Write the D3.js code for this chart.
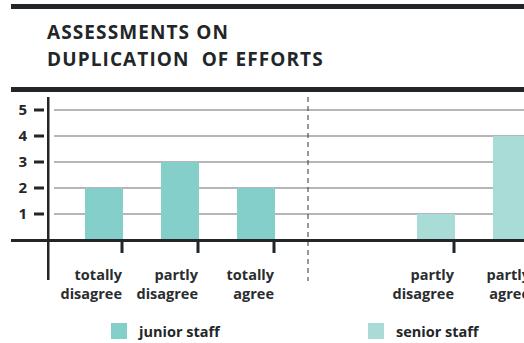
<!DOCTYPE html>
<html>
<head>
<meta charset="utf-8">
<script src="https://cdn.jsdelivr.net/npm/d3@7"></script>
<style>
  html, body { margin: 0; padding: 0; background: #fff; }
  svg { display: block; font-family: "Open Sans", Lato, sans-serif; }
</style>
</head>
<body>
<svg id="chart" width="524" height="343"></svg>
<script>
// Survey answers: how many respondents chose each option
const juniorCategories = ["totally disagree", "partly disagree", "totally agree"];
const juniorValues = [2, 3, 2];
const seniorCategories = ["partly disagree", "partly agree"];
const seniorValues = [1, 4];
const yTicks = [1, 2, 3, 4, 5];
const titleLines = ["ASSESSMENTS ON", "DUPLICATION  OF EFFORTS"];
const legendItems = ["junior staff", "senior staff"];

const juniorColor = "#84cfc9";
const seniorColor = "#a9dcd7";
const ink = "#222628";

const svg = d3.select("#chart");

// Heavy rules framing the title
svg.append("rect").attr("x", 11).attr("y", 4).attr("width", 513).attr("height", 5).attr("fill", ink);
svg.append("rect").attr("x", 11).attr("y", 87).attr("width", 513).attr("height", 5).attr("fill", ink);

svg.append("g").selectAll("text").data(titleLines).join("text")
  .attr("x", 47).attr("y", (d, i) => 39 + i * 26.5)
  .attr("font-size", 19).attr("font-weight", 700).attr("letter-spacing", 1.1).attr("fill", ink)
  .attr("xml:space", "preserve")
  .text(d => d);

// Scales: one band step per answer option, each group on its own range
const y = d3.scaleLinear().domain([0, 5]).range([240, 110]);
const xJ = d3.scaleBand().domain(juniorCategories).range([47, 313]).paddingInner(0.5).paddingOuter(0.5);
const xS = d3.scaleBand().domain(seniorCategories).range([379, 569]).paddingInner(0.5).paddingOuter(0.5);
const axisX = 48;
const dividerX = 308;

// Gridlines
svg.append("g").selectAll("line").data(yTicks).join("line")
  .attr("x1", 54).attr("x2", 524)
  .attr("y1", d => y(d)).attr("y2", d => y(d))
  .attr("stroke", "#6b6e70").attr("stroke-width", 1.2);

// Group divider
svg.append("line")
  .attr("x1", dividerX).attr("x2", dividerX).attr("y1", 97).attr("y2", 281)
  .attr("stroke", "#555").attr("stroke-width", 1.2).attr("stroke-dasharray", "5,4");

// Bars
svg.append("g").selectAll("rect").data(juniorCategories).join("rect")
  .attr("x", d => xJ(d)).attr("width", xJ.bandwidth())
  .attr("y", (d, i) => y(juniorValues[i])).attr("height", (d, i) => y(0) - y(juniorValues[i]))
  .attr("fill", juniorColor);
svg.append("g").selectAll("rect").data(seniorCategories).join("rect")
  .attr("x", d => xS(d)).attr("width", xS.bandwidth())
  .attr("y", (d, i) => y(seniorValues[i])).attr("height", (d, i) => y(0) - y(seniorValues[i]))
  .attr("fill", seniorColor);

// Baseline and y axis
svg.append("rect").attr("x", 11).attr("y", y(0) - 1).attr("width", 513).attr("height", 3).attr("fill", ink);
svg.append("rect").attr("x", axisX - 1).attr("y", 97).attr("width", 2.5).attr("height", 183).attr("fill", ink);

// Y ticks and labels
const yt = svg.append("g").selectAll("g").data(yTicks).join("g")
  .attr("transform", d => `translate(0,${y(d)})`);
yt.append("rect").attr("x", 34).attr("y", -1.5).attr("width", 10).attr("height", 3).attr("fill", ink);
yt.append("text").attr("x", 27).attr("dy", "0.36em").attr("text-anchor", "end")
  .attr("font-size", 15).attr("font-weight", 700).attr("fill", ink).text(d => d);

// X ticks and two-line labels, right-aligned on each bar's right edge
function xLabels(scale, cats) {
  const g = svg.append("g").selectAll("g").data(cats).join("g")
    .attr("transform", d => `translate(${scale(d) + scale.bandwidth() - 1},0)`);
  g.append("rect").attr("x", -1.5).attr("y", 242).attr("width", 3).attr("height", 11).attr("fill", ink);
  const t = g.append("text").attr("text-anchor", "end")
    .attr("font-size", 14.5).attr("font-weight", 700).attr("fill", "#2a2d2f");
  t.selectAll("tspan").data(d => d.split(" ")).join("tspan")
    .attr("x", 0).attr("y", (d, i) => 280 + i * 19).text(d => d);
}
xLabels(xJ, juniorCategories);
xLabels(xS, seniorCategories);

// Legend
const legendX = d3.scalePoint().domain(legendItems).range([111, 368]);
const lg = svg.append("g").selectAll("g").data(legendItems).join("g")
  .attr("transform", d => `translate(${legendX(d)},323)`);
lg.append("rect").attr("width", 16).attr("height", 16)
  .attr("fill", (d, i) => i === 0 ? juniorColor : seniorColor);
lg.append("text").attr("x", 28).attr("y", 14)
  .attr("font-size", 14.5).attr("font-weight", 700).attr("fill", ink).text(d => d);
</script>
</body>
</html>
